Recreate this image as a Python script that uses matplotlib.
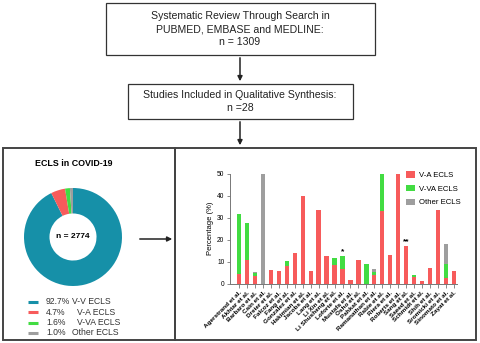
import matplotlib.pyplot as plt
from matplotlib.patches import Rectangle, FancyArrowPatch

plt.rcParams['font.family'] = ['Liberation Sans', 'DejaVu Sans']

# pooled ECLS configurations
pie_labels = ['V-V ECLS', 'V-A ECLS', 'V-VA ECLS', 'Other ECLS']
pie_pcts = [92.7, 4.7, 1.6, 1.0]
pie_colors = ['#1690a8', '#f75b5b', '#42dc42', '#9e9e9e']

# per-study breakdown (% of ECLS runs)
studies = ['Agerstrand et al.', 'Akhtar et al.', 'Barbaro et al.', 'Cain et al.',
           'Dreier et al.', 'Falcoz et al.', 'Fang et al.', 'Gonzalez et al.',
           'Hakimian et al.', 'Jacobs et al.', 'Lang et al.', 'Li Xin et al.',
           'Li Shusheng et al.', 'Loforte et al.', 'Mustafa et al.', 'Osho et al.',
           'Pahkat et al.', 'Ramanathan et al.', 'Rabie et al.', 'Riera et al.',
           'Roberts et al.', 'Sang et al.', 'Saeed et al.', 'Schmidt et al.',
           'Shih et al.', 'Sromicki et al.', 'Sinomato et al.', 'Zayat et al.']
va = [4.5, 11.0, 3.8, 0, 6.2, 5.8, 8.0, 13.9, 40.0, 6.0, 33.3, 12.5, 8.8, 7.0,
      1.9, 11.0, 0, 4.0, 33.0, 13.0, 50.0, 17.3, 3.0, 1.2, 7.4, 33.3, 2.6, 6.0]
vva = [27.3, 16.6, 1.0, 0, 0, 0, 2.2, 0, 0, 0, 0, 0, 2.9, 5.5,
       0, 0, 9.0, 1.6, 17.0, 0, 0, 0, 1.0, 0, 0, 0, 6.4, 0]
other = [0, 0, 0.5, 50.0, 0, 0, 0, 0, 0, 0, 0, 0, 0, 0,
         0, 0, 0, 1.4, 0, 0, 0, 0, 0, 0, 0, 0, 9.0, 0]
marks = {13: '*', 21: '**'}

W, H = 480, 343
fig = plt.figure(figsize=(W / 100, H / 100), dpi=100)

# canvas in pixel units for the flow boxes and arrows
bg = fig.add_axes([0, 0, 1, 1])
bg.set_xlim(0, W)
bg.set_ylim(H, 0)
bg.axis('off')

def box(x0, y0, x1, y1, lw=0.9, ec='#333333'):
    bg.add_patch(Rectangle((x0, y0), x1 - x0, y1 - y0, fill=False, lw=lw, ec=ec))

def arrow(x0, y0, x1, y1):
    bg.add_patch(FancyArrowPatch((x0, y0), (x1, y1), arrowstyle='-|>',
                                 mutation_scale=7, lw=1.1, color='#222222'))

box(106, 3, 375, 55)
bg.text(240, 29, 'Systematic Review Through Search in\nPUBMED, EMBASE and MEDLINE:\nn = 1309',
        ha='center', va='center', fontsize=7.6, linespacing=1.35, color='#222222')
arrow(240, 55, 240, 84)
box(128, 84, 353, 119)
bg.text(240, 101.5, 'Studies Included in Qualitative Synthesis:\nn =28',
        ha='center', va='center', fontsize=7.6, linespacing=1.35, color='#222222')
arrow(240, 119, 240, 148)

box(3, 148, 175, 340, lw=1.4, ec='#444444')
box(175, 148, 476, 340, lw=1.4, ec='#444444')
arrow(137, 239, 175, 239)

bg.text(74, 163, 'ECLS in COVID-19', ha='center', va='center', fontsize=6.4, fontweight='bold')

# legend rows under the donut
for i, (lab, p, c) in enumerate(zip(pie_labels, pie_pcts, pie_colors)):
    y = 302 + i * 10.3
    bg.plot([28, 38], [y, y], color=c, lw=2.2, solid_capstyle='butt')
    bg.text(46, y, f'{p:.1f}%', ha='left', va='center', fontsize=6.2, color='#333333')
    bg.text(72 if i in (0, 3) else 77, y, lab, ha='left', va='center',
            fontsize=6.2, color='#333333')

# donut
pax = fig.add_axes([24 / W, (H - 286) / H, 98 / W, 98 / H])
pax.pie(pie_pcts, colors=pie_colors, startangle=90, counterclock=False,
        wedgeprops=dict(width=0.52, edgecolor='none'))
pax.set_xlim(-1, 1)
pax.set_ylim(-1, 1)
pax.text(0, 0, 'n = 2774', ha='center', va='center', fontsize=6, fontweight='bold')

# stacked bars
ax = fig.add_axes([230 / W, (H - 284) / H, 227 / W, 110.5 / H])
x = range(len(studies))
bw = 0.55
ax.bar(x, va, bw, color='#f75b5b', label='V-A ECLS')
ax.bar(x, vva, bw, bottom=va, color='#42dc42', label='V-VA ECLS')
ax.bar(x, other, bw, bottom=[a + b for a, b in zip(va, vva)], color='#9e9e9e',
       label='Other ECLS')
for i, m in marks.items():
    top = va[i] + vva[i] + other[i]
    ax.text(i, top + 0.4, m, ha='center', va='bottom', fontsize=6, fontweight='bold')

ax.set_xlim(-1.15, 27.4)
ax.set_ylim(0, 50)
ax.set_yticks(range(0, 51, 10))
ax.set_xticks(list(x))
ax.set_xticklabels(studies, rotation=45, ha='right', rotation_mode='anchor',
                   fontsize=4.6, fontweight='bold')
ax.tick_params(axis='y', labelsize=4.8, length=2.5, width=0.6, color='#777777', pad=1.5)
ax.tick_params(axis='x', length=3, width=0.6, color='#777777', pad=1.5)
ax.set_ylabel('Percentage (%)', fontsize=5.5, labelpad=2)
for s in ('top', 'right'):
    ax.spines[s].set_visible(False)
for s in ('left', 'bottom'):
    ax.spines[s].set_color('#777777')
    ax.spines[s].set_linewidth(0.7)
ax.patch.set_alpha(0)
ax.legend(loc='upper right', bbox_to_anchor=(1.03, 1.05), frameon=False, fontsize=5.6,
          handlelength=1.2, handleheight=0.9, handletextpad=0.5, labelspacing=0.75,
          borderaxespad=0)

fig.savefig('out.png', dpi=100)
